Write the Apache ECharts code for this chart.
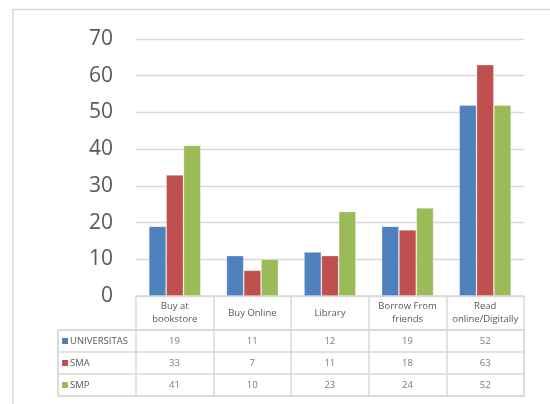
<!DOCTYPE html>
<html>
<head>
<meta charset="utf-8">
<style>
  html, body { margin: 0; padding: 0; background: #ffffff; }
  #chart { width: 550px; height: 404px; }
</style>
<script src="https://cdn.jsdelivr.net/npm/echarts@6/dist/echarts.min.js"></script>
</head>
<body>
<div id="chart"></div>
<script>
// ---- data ----
const categories = ['Buy at\nbookstore', 'Buy Online', 'Library', 'Borrow From\nfriends', 'Read\nonline/Digitally'];
const seriesNames = ['UNIVERSITAS', 'SMA', 'SMP'];
const universitas = [19, 11, 12, 19, 52];
const sma = [33, 7, 11, 18, 63];
const smp = [41, 10, 23, 24, 52];
const yTicks = [0, 10, 20, 30, 40, 50, 60, 70];

const colors = ['#4F81BD', '#C0504D', '#9BBB59'];
const seriesValues = [universitas, sma, smp];
const textColor = '#595959';
const lineColor = '#D9D9D9';
const font = 'Open Sans';

// table cells: [column (1..5), row, value]
const tableData = [];
seriesValues.forEach((vals, r) => {
  vals.forEach((v, c) => tableData.push([c + 1, r, v]));
});

const chart = echarts.init(document.getElementById('chart'), null, { renderer: 'canvas' });

const rich = { t: { color: textColor, fontFamily: font, fontSize: 9.5, padding: [0, 0, 0, 2] } };
colors.forEach((c, i) => {
  rich['s' + i] = { width: 6, height: 6, backgroundColor: c };
});

const option = {
  animation: false,
  color: colors,
  graphic: [{
    type: 'rect',
    silent: true,
    z: -10,
    shape: { x: 13, y: 9.5, width: 800, height: 800 },
    style: { fill: 'none', stroke: lineColor, lineWidth: 1.6 }
  }],
  grid: [
    { left: 136, right: 26, top: 39, height: 257 },
    { left: 58, right: 26, top: 330, height: 66, show: true, borderColor: lineColor, borderWidth: 1.5, backgroundColor: 'transparent' }
  ],
  xAxis: [
    {
      type: 'category',
      gridIndex: 0,
      data: categories,
      axisLine: { show: true, lineStyle: { color: lineColor, width: 1.5 } },
      axisTick: { show: true, interval: 0, length: 34, lineStyle: { color: lineColor, width: 1.5 } },
      axisLabel: {
        interval: 0, margin: 17, verticalAlign: 'middle',
        color: textColor, fontFamily: font, fontSize: 9.5, lineHeight: 13
      },
      splitLine: { show: false }
    },
    {
      type: 'category',
      gridIndex: 1,
      data: [''].concat(categories),
      axisLine: { show: false },
      axisTick: { show: false },
      axisLabel: { show: false },
      splitLine: { show: true, interval: 0, lineStyle: { color: lineColor, width: 1.5 } }
    }
  ],
  yAxis: [
    {
      type: 'value',
      gridIndex: 0,
      min: yTicks[0], max: yTicks[yTicks.length - 1], interval: 10,
      axisLine: { show: false },
      axisTick: { show: false },
      axisLabel: { color: textColor, fontFamily: font, fontSize: 21, margin: 23 },
      splitLine: { show: true, lineStyle: { color: lineColor, width: 1.3 } }
    },
    {
      type: 'category',
      gridIndex: 1,
      inverse: true,
      data: seriesNames,
      axisLine: { show: false },
      axisTick: { show: false },
      axisLabel: {
        inside: true, margin: 4,
        formatter: (v, i) => '{s' + i + '|}{t|' + v + '}',
        rich: rich
      },
      splitLine: { show: true, interval: 0, lineStyle: { color: lineColor, width: 1.5 } }
    }
  ],
  series: seriesNames.map((name, i) => ({
    name: name,
    type: 'bar',
    xAxisIndex: 0,
    yAxisIndex: 0,
    data: seriesValues[i],
    barGap: '0%',
    barCategoryGap: '33%',
    itemStyle: { color: colors[i], borderColor: 'rgba(255,255,255,0.35)', borderWidth: 0.8 },
    silent: true
  })).concat([{
    type: 'scatter',
    xAxisIndex: 1,
    yAxisIndex: 1,
    data: tableData,
    symbolSize: 1,
    itemStyle: { color: 'rgba(0,0,0,0)' },
    silent: true,
    label: {
      show: true,
      position: 'inside',
      formatter: p => String(p.value[2]),
      color: textColor, fontFamily: font, fontSize: 9.5
    }
  }])
};

chart.setOption(option);
</script>
</body>
</html>
